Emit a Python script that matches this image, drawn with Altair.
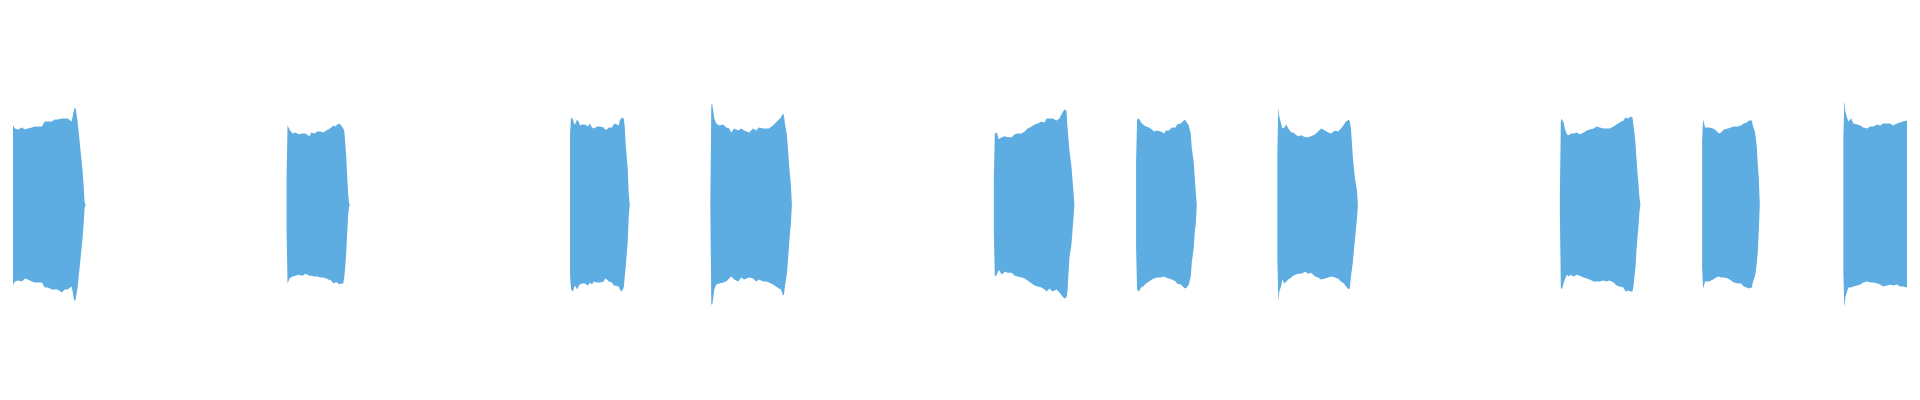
import altair as alt
import pandas as pd

# Waveform envelope (upper / lower amplitude) per burst, sample column index
X1 = [0, 2, 3, 4, 5, 7, 10, 13, 17, 20, 23, 27, 30, 33, 37, 40, 43, 47, 50, 53, 57, 60, 63, 67, 69, 70, 71, 73, 74, 75, 76, 77, 78, 79, 80, 81]
TOP1 = [91, 87, 79, 73, 77, 82, 77, 76, 78, 76, 77, 78, 79, 79, 79, 84, 84, 84, 86, 86, 87, 87, 87, 84, 94, 98, 97, 84, 74, 64, 54, 44, 34, 20, 3, 0]
BOT1 = [-90, -87, -80, -73, -80, -82, -77, -76, -77, -74, -75, -77, -78, -78, -78, -83, -83, -85, -85, -85, -88, -85, -85, -82, -93, -97, -95, -83, -73, -63, -53, -43, -33, -19, -3, 0]

X2 = [283, 284, 286, 289, 292, 295, 299, 302, 306, 308, 311, 314, 317, 320, 323, 325, 328, 330, 332, 334, 336, 338, 340, 341, 342, 343, 344, 345, 346, 347]
TOP2 = [26, 80, 76, 72, 73, 71, 72, 72, 69, 73, 72, 74, 74, 73, 75, 76, 78, 80, 79, 81, 82, 80, 77, 75, 63, 49, 28, 10, 1, 0]
BOT2 = [-26, -79, -74, -72, -71, -70, -71, -69, -71, -71, -72, -72, -73, -73, -74, -75, -76, -79, -78, -78, -80, -79, -79, -73, -62, -48, -28, -9, -1, 0]

X3 = [568, 569, 571, 572, 573, 575, 577, 578, 580, 583, 586, 588, 590, 592, 595, 598, 602, 603, 605, 607, 610, 612, 613, 617, 618, 620, 622, 623, 624, 626, 627, 628]
TOP3 = [72, 88, 86, 82, 81, 86, 83, 80, 81, 81, 79, 82, 78, 77, 79, 79, 78, 76, 76, 78, 78, 81, 82, 80, 85, 88, 87, 79, 60, 36, 11, 0]
BOT3 = [-71, -85, -87, -83, -81, -85, -81, -80, -79, -79, -81, -78, -80, -77, -78, -78, -77, -74, -75, -77, -78, -81, -81, -82, -85, -87, -83, -72, -62, -36, -11, 0]

X4 = [709, 710, 711, 712, 713, 715, 718, 722, 725, 728, 730, 733, 737, 740, 743, 748, 752, 755, 758, 762, 765, 768, 772, 775, 778, 780, 782, 783, 784, 786, 787, 788, 789, 790, 791]
TOP4 = [1, 101, 101, 94, 87, 82, 80, 81, 78, 77, 73, 77, 75, 77, 75, 73, 77, 75, 78, 77, 77, 77, 80, 83, 86, 88, 92, 90, 82, 70, 57, 43, 31, 20, 0]
BOT4 = [-1, -100, -100, -93, -85, -80, -79, -78, -77, -74, -72, -75, -77, -73, -75, -73, -74, -77, -75, -77, -77, -78, -80, -82, -84, -85, -91, -90, -82, -69, -56, -43, -29, -19, 0]

X5 = [994, 995, 997, 999, 1002, 1005, 1008, 1012, 1015, 1018, 1022, 1025, 1028, 1032, 1035, 1038, 1042, 1045, 1047, 1050, 1053, 1057, 1060, 1063, 1065, 1067, 1068, 1070, 1072, 1073, 1074, 1075]
TOP5 = [27, 72, 73, 66, 68, 69, 68, 68, 71, 72, 72, 74, 77, 79, 81, 82, 84, 83, 87, 87, 87, 85, 87, 93, 96, 95, 79, 55, 39, 27, 14, 0]
BOT5 = [-27, -72, -70, -65, -70, -67, -68, -68, -71, -72, -73, -74, -76, -79, -81, -82, -83, -85, -87, -84, -87, -85, -88, -92, -94, -93, -87, -53, -40, -27, -14, 0]

X6 = [1137, 1138, 1140, 1142, 1144, 1147, 1150, 1153, 1155, 1158, 1162, 1165, 1167, 1170, 1173, 1177, 1178, 1182, 1184, 1186, 1188, 1190, 1192, 1193, 1195, 1196, 1197, 1198]
TOP6 = [43, 86, 87, 83, 81, 79, 78, 76, 74, 75, 74, 72, 75, 75, 78, 78, 81, 82, 84, 86, 83, 80, 71, 57, 43, 27, 13, 0]
BOT6 = [-42, -85, -87, -83, -82, -79, -77, -75, -74, -73, -73, -72, -73, -74, -75, -77, -79, -80, -82, -84, -83, -80, -72, -58, -43, -27, -19, 0]

X7 = [1279, 1280, 1281, 1283, 1284, 1286, 1288, 1290, 1293, 1295, 1297, 1300, 1303, 1307, 1310, 1313, 1317, 1320, 1323, 1327, 1330, 1333, 1337, 1340, 1343, 1346, 1348, 1351, 1352, 1353, 1355, 1356, 1357, 1359, 1360]
TOP7 = [53, 98, 89, 81, 77, 78, 81, 77, 73, 73, 71, 69, 70, 68, 68, 69, 71, 74, 77, 75, 73, 72, 75, 74, 77, 81, 84, 86, 83, 77, 47, 37, 27, 15, 0]
BOT7 = [-53, -97, -87, -81, -75, -79, -77, -75, -73, -71, -70, -69, -69, -67, -69, -68, -72, -73, -75, -74, -73, -72, -73, -74, -77, -79, -82, -85, -83, -72, -57, -45, -35, -14, 0]

X8 = [1563, 1564, 1565, 1567, 1568, 1570, 1572, 1574, 1577, 1580, 1583, 1587, 1590, 1593, 1597, 1600, 1603, 1607, 1610, 1613, 1617, 1620, 1623, 1627, 1629, 1632, 1634, 1636, 1637, 1638, 1639, 1640, 1641, 1642, 1643, 1644]
TOP8 = [9, 84, 87, 82, 77, 71, 70, 72, 72, 73, 71, 73, 75, 76, 77, 79, 78, 77, 77, 77, 79, 81, 83, 85, 88, 87, 89, 88, 80, 73, 62, 47, 33, 22, 8, 0]
BOT8 = [-8, -83, -85, -78, -75, -70, -72, -70, -72, -70, -71, -73, -74, -75, -77, -77, -77, -76, -77, -76, -78, -81, -82, -83, -87, -86, -87, -87, -82, -72, -63, -46, -33, -22, -7, 0]

X9 = [1706, 1707, 1709, 1711, 1713, 1717, 1720, 1723, 1725, 1728, 1732, 1735, 1738, 1742, 1745, 1748, 1751, 1753, 1756, 1757, 1759, 1760, 1761, 1762, 1763, 1764]
TOP9 = [65, 86, 78, 78, 78, 77, 75, 72, 73, 76, 77, 78, 79, 79, 80, 82, 83, 85, 85, 80, 74, 67, 58, 40, 27, 0]
BOT9 = [-63, -84, -77, -77, -77, -75, -73, -72, -73, -73, -74, -76, -78, -79, -79, -82, -83, -84, -83, -78, -72, -67, -58, -47, -26, 0]

X10 = [1848, 1849, 1850, 1852, 1853, 1856, 1858, 1862, 1865, 1868, 1872, 1875, 1878, 1882, 1885, 1888, 1892, 1895, 1898, 1902, 1905, 1908, 1912, 1915, 1917, 1920]
TOP10 = [68, 105, 94, 87, 84, 87, 82, 81, 80, 78, 77, 79, 79, 81, 80, 82, 82, 82, 80, 82, 83, 84, 85, 92, 93, 95]
BOT10 = [-68, -103, -93, -86, -83, -83, -82, -81, -80, -78, -77, -78, -78, -79, -80, -82, -81, -80, -81, -80, -82, -82, -83, -88, -92, -95]

BURSTS = [
    (X1, TOP1, BOT1), (X2, TOP2, BOT2), (X3, TOP3, BOT3), (X4, TOP4, BOT4),
    (X5, TOP5, BOT5), (X6, TOP6, BOT6), (X7, TOP7, BOT7), (X8, TOP8, BOT8),
    (X9, TOP9, BOT9), (X10, TOP10, BOT10),
]

rows = []
for i, (xs, tops, bots) in enumerate(BURSTS):
    for x, t, b in zip(xs, tops, bots):
        rows.append({"t": float(x), "hi": float(t), "lo": float(b), "burst": f"b{i}"})
df = pd.DataFrame(rows)

chart = (
    alt.Chart(df)
    .mark_area(color="#5DADE2", clip=True)
    .encode(
        x=alt.X("t:Q", scale=alt.Scale(domain=[8, 1912], nice=False, zero=False), axis=None),
        y=alt.Y("hi:Q", scale=alt.Scale(domain=[-192, 192], nice=False, zero=False), axis=None, stack=None),
        y2=alt.Y2("lo:Q"),
        detail=alt.Detail("burst:N"),
    )
    .properties(width=1904, height=384)
    .configure_view(stroke=None)
)

chart.save("out.html", embed_options={"renderer": "svg", "actions": False})
